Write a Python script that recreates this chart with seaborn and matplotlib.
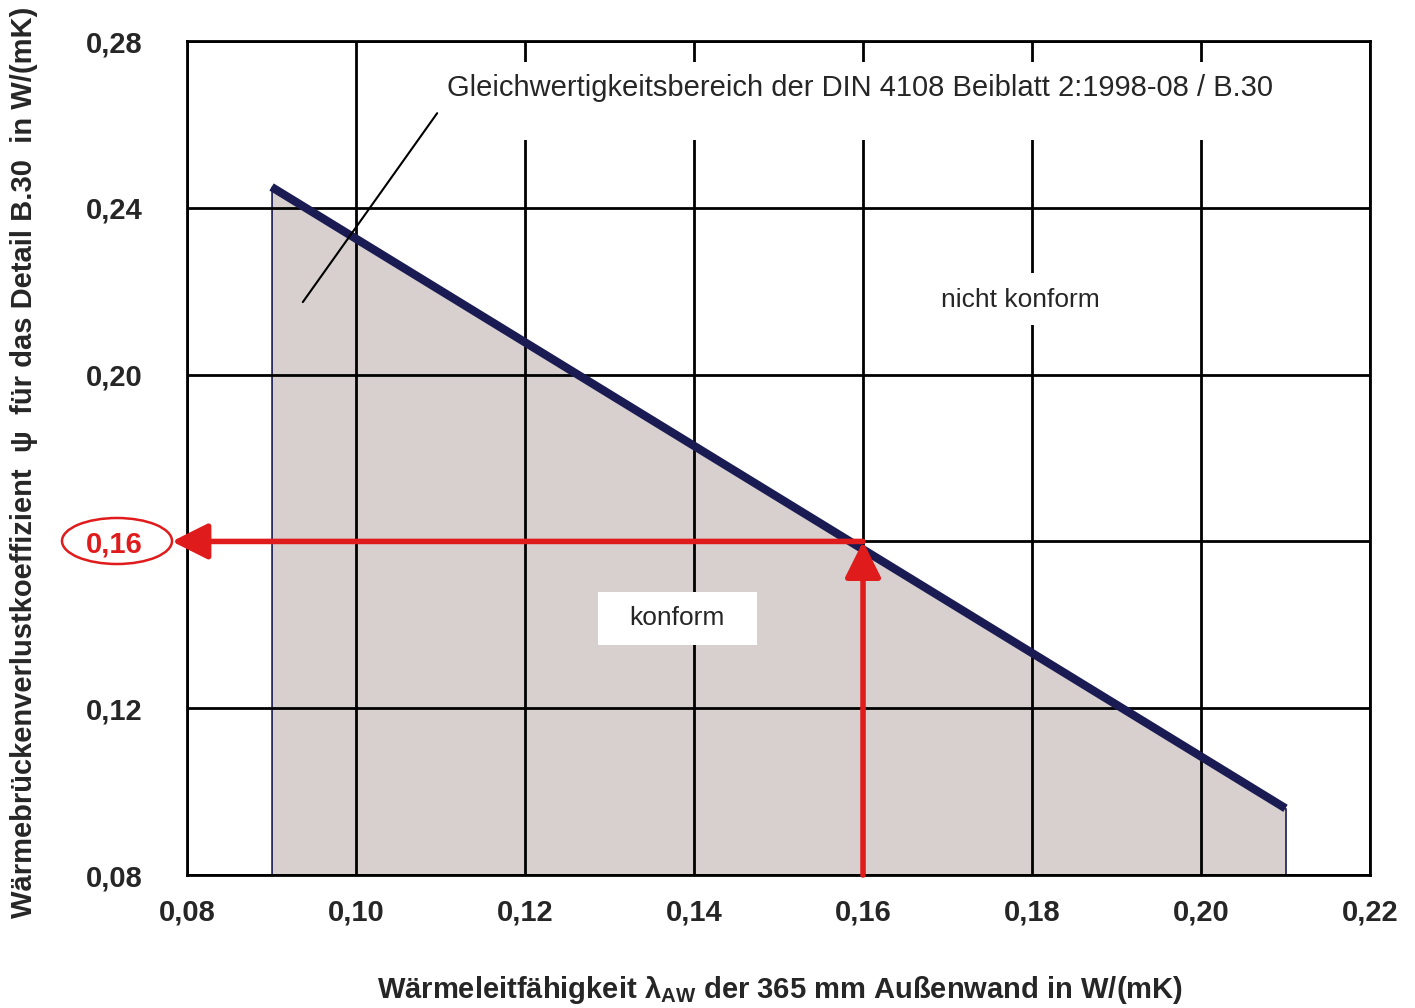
import matplotlib
matplotlib.use("Agg")
import matplotlib.pyplot as plt
import seaborn as sns
import pandas as pd
from matplotlib.patches import Ellipse, Rectangle

# boundary line of the equivalence range (lambda_AW -> psi)
lam_vals = [0.09, 0.21]
psi_vals = [0.245, 0.096]

x_ticks = [0.08, 0.10, 0.12, 0.14, 0.16, 0.18, 0.20, 0.22]
y_ticks = [0.08, 0.12, 0.16, 0.20, 0.24, 0.28]

read_lam = 0.16
read_psi = 0.16

note_text = "Gleichwertigkeitsbereich der DIN 4108 Beiblatt 2:1998-08 / B.30"


def fmt(v):
    return f"{v:.2f}".replace(".", ",")


def white_box(ax, x0, x1, y0, y1):
    ax.add_patch(Rectangle((x0, y0), x1 - x0, y1 - y0, facecolor="white",
                           edgecolor="none", zorder=4.5))


def main():
    sns.set_style("white")
    plt.rcParams["font.family"] = ["Liberation Sans", "DejaVu Sans"]
    plt.rcParams["mathtext.fontset"] = "custom"
    plt.rcParams["mathtext.bf"] = "Liberation Sans:bold"
    plt.rcParams["mathtext.rm"] = "Liberation Sans"

    df = pd.DataFrame({"lam": lam_vals, "psi": psi_vals})

    fig = plt.figure(figsize=(14.15, 10.08), dpi=100)
    ax = fig.add_axes([0.1322, 0.1319, 0.836, 0.8274])

    navy = "#1a1b52"
    red = "#e01b1b"

    # filled "konform" region
    ax.fill_between(df["lam"], df["psi"], 0.08, facecolor="#d8cfcf",
                    edgecolor=navy, linewidth=1.2, zorder=1)
    sns.lineplot(data=df, x="lam", y="psi", color=navy, linewidth=6,
                 solid_capstyle="butt", ax=ax, zorder=3)

    ax.set_xlim(0.08, 0.22)
    ax.set_ylim(0.08, 0.28)
    ax.set_xticks(x_ticks)
    ax.set_yticks(y_ticks)
    ax.set_xticklabels([fmt(v) for v in x_ticks], fontsize=21, fontweight="bold")
    ax.set_yticklabels([fmt(v) for v in y_ticks], fontsize=21, fontweight="bold")
    ax.tick_params(axis="x", length=0, pad=17)
    ax.tick_params(axis="y", length=0, pad=32)
    ax.set_axisbelow(False)
    ax.grid(True, color="black", linewidth=2)
    for s in ax.spines.values():
        s.set_color("black")
        s.set_linewidth(2)

    ylab = ax.get_yticklabels()
    ylab[y_ticks.index(read_psi)].set_color(red)

    # red reading arrows
    head = "-|>,head_length=2.2,head_width=1.1"
    ax.annotate("", xy=(read_lam, read_psi), xytext=(read_lam, 0.08),
                arrowprops=dict(arrowstyle=head, color=red, lw=4,
                                shrinkA=0, shrinkB=0),
                zorder=4, annotation_clip=False)
    ax.annotate("", xy=(0.0782, read_psi), xytext=(read_lam, read_psi),
                arrowprops=dict(arrowstyle=head, color=red, lw=4,
                                shrinkA=0, shrinkB=0),
                zorder=4, annotation_clip=False)

    ell = Ellipse((117 / 1415, 1 - 541 / 1008), 110 / 1415, 46 / 1008,
                  transform=fig.transFigure, facecolor="none",
                  edgecolor=red, linewidth=1.8)
    fig.patches.append(ell)

    # annotations with white backgrounds that cut the grid
    white_box(ax, 0.1099, 0.2115, 0.2563, 0.275)
    ax.text(0.1108, 0.2687, note_text, fontsize=21, va="center", ha="left", zorder=5)
    ax.plot([0.1096, 0.0937], [0.2627, 0.2174], color="black", lw=1.5, zorder=4)

    white_box(ax, 0.1679, 0.1892, 0.2119, 0.2244)
    ax.text(0.1786, 0.2179, "nicht konform", fontsize=19, va="center", ha="center", zorder=5)

    white_box(ax, 0.1286, 0.1474, 0.1352, 0.1479)
    ax.text(0.138, 0.1416, "konform", fontsize=19, va="center", ha="center", zorder=5)

    ax.set_xlabel(r"Wärmeleitfähigkeit λ$_{\mathbf{AW}}$ der 365 mm Außenwand in W/(mK)",
                  fontsize=21, fontweight="bold")
    ax.xaxis.set_label_coords(0.501, -0.119)
    ax.set_ylabel("Wärmebrückenverlustkoeffizient  ψ  für das Detail B.30  in W/(mK)",
                  fontsize=21, fontweight="bold")
    ax.yaxis.set_label_coords(-0.126, 0.495)

    fig.savefig("out.png", dpi=100, facecolor="white")


if __name__ == "__main__":
    main()
